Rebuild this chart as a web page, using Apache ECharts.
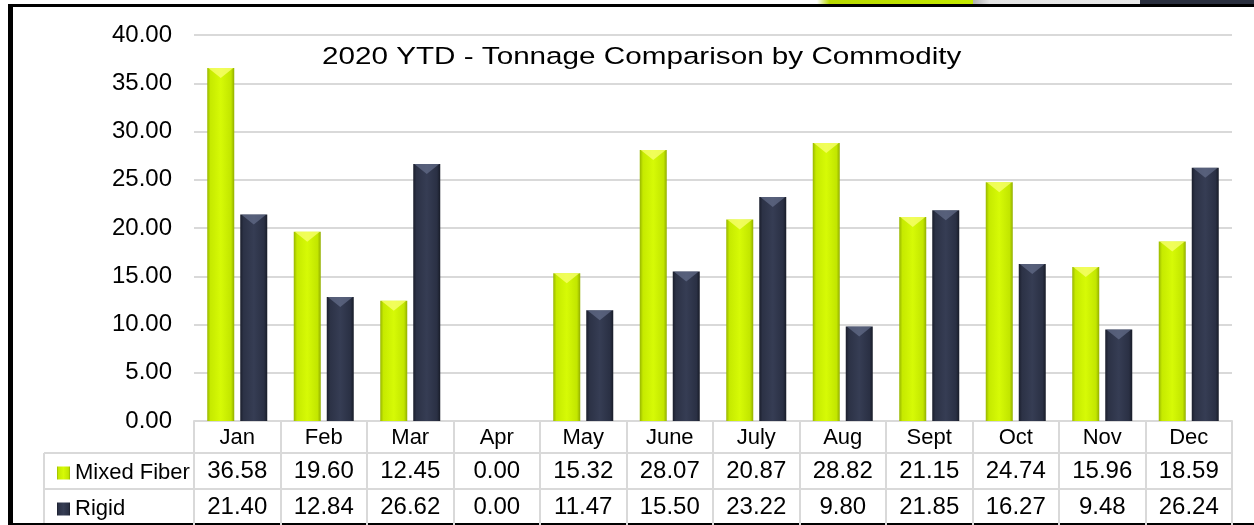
<!DOCTYPE html>
<html>
<head>
<meta charset="UTF-8">
<title>2020 YTD - Tonnage Comparison by Commodity</title>
<script type="text/javascript" src="https://cdn.jsdelivr.net/npm/echarts@6/dist/echarts.min.js"></script>
<style>
	html,body{margin:0;padding:0;background:#fff;}
</style>
</head>
<body>
	<div id="show" style="width:1254px;height:525px"></div>
	<script type="text/javascript">
		// data
		var months=['Jan','Feb','Mar','Apr','May','June','July','Aug','Sept','Oct','Nov','Dec'];
		var mixedFiber=[36.58,19.60,12.45,0.00,15.32,28.07,20.87,28.82,21.15,24.74,15.96,18.59];
		var rigid=[21.40,12.84,26.62,0.00,11.47,15.50,23.22,9.80,21.85,16.27,9.48,26.24];
		var yTicks=[0,5,10,15,20,25,30,35,40];

		var FONT='"Liberation Sans", Arial, sans-serif';
		var GRAY='#d9d9d9';
		var BAR_W=27;
		var GAP=6;
		var SHIFT=(BAR_W+GAP)/2;

		var greenFill=new echarts.graphic.LinearGradient(0,0,1,0,[
			{offset:0,color:'#98b600'},
			{offset:0.12,color:'#c6ea00'},
			{offset:0.5,color:'#d6fa06'},
			{offset:0.88,color:'#c2e600'},
			{offset:1,color:'#92ae00'}
		]);
		var darkFill=new echarts.graphic.LinearGradient(0,0,1,0,[
			{offset:0,color:'#1a1e2c'},
			{offset:0.12,color:'#2c3246'},
			{offset:0.5,color:'#363d54'},
			{offset:0.88,color:'#2a3044'},
			{offset:1,color:'#181c28'}
		]);

		function tableAxis(labels,offset,tickLen,size){
			return {
				type:'category',
				position:'bottom',
				offset:offset,
				data:labels,
				axisLine:{show:true,lineStyle:{color:GRAY,width:2}},
				axisTick:{show:true,length:tickLen,lineStyle:{color:GRAY,width:2}},
				axisLabel:{color:'#000',fontSize:size,fontFamily:FONT,margin:6,interval:0}
			};
		}
		// bevel on top of each bar: hide it where the value is 0
		function caps(arr){
			return arr.map(function(v){return v>0?v:'-';});
		}
		function capSeries(name,arr,dx,color){
			return {
				name:name,
				type:'pictorialBar',
				symbol:'triangle',
				symbolRotate:180,
				symbolSize:[BAR_W-2,10],
				symbolPosition:'end',
				symbolOffset:[dx,0],
				itemStyle:{color:color},
				z:3,
				silent:true,
				data:caps(arr)
			};
		}
		function legendRow(name,top){
			return {
				data:[{name:name,icon:'rect'}],
				orient:'vertical',
				left:52,
				top:top,
				itemWidth:13,
				itemHeight:13,
				selectedMode:false,
				textStyle:{color:'#000',fontSize:22,fontFamily:FONT}
			};
		}

		var myCharts=echarts.init(document.getElementById('show'));
		myCharts.setOption({
			animation:false,
			legend:[legendRow('Mixed Fiber',457),legendRow('Rigid',493)],
			grid:{left:194,right:22,top:35,bottom:104},
			xAxis:[
				tableAxis(months,0,32,22),
				tableAxis(mixedFiber.map(function(v){return v.toFixed(2);}),32,36,24),
				tableAxis(rigid.map(function(v){return v.toFixed(2);}),68,36,24)
			],
			yAxis:{
				type:'value',
				min:yTicks[0],
				max:yTicks[yTicks.length-1],
				interval:yTicks[1]-yTicks[0],
				axisLine:{show:false},
				axisTick:{show:false},
				axisLabel:{color:'#000',fontSize:24,fontFamily:FONT,margin:22,
					formatter:function(v){return v.toFixed(2);}},
				splitLine:{lineStyle:{color:GRAY,width:2}}
			},
			series:[{
				name:'Mixed Fiber',
				type:'bar',
				barWidth:BAR_W,
				barGap:(GAP/BAR_W*100)+'%',
				itemStyle:{color:greenFill},
				data:mixedFiber
			},{
				name:'Rigid',
				type:'bar',
				barWidth:BAR_W,
				itemStyle:{color:darkFill},
				data:rigid
			},
			capSeries('capMixed',mixedFiber,-SHIFT,'rgba(248,255,110,0.8)'),
			capSeries('capRigid',rigid,SHIFT,'rgba(110,120,150,0.6)')
			],
			graphic:[
				{type:'text',x:322,y:45,scaleX:1.21,
					style:{text:'2020 YTD - Tonnage Comparison by Commodity',fill:'#000',
						font:'24.5px "Liberation Sans", Arial, sans-serif',textVerticalAlign:'top'}},
				// table lines left of the plot
				{type:'line',shape:{x1:44,y1:453,x2:194,y2:453},style:{stroke:GRAY,lineWidth:2}},
				{type:'line',shape:{x1:44,y1:489,x2:194,y2:489},style:{stroke:GRAY,lineWidth:2}},
				{type:'line',shape:{x1:44,y1:453,x2:44,y2:525},style:{stroke:GRAY,lineWidth:2}},
				// outer black frame
				{type:'line',shape:{x1:10.5,y1:4,x2:10.5,y2:525},style:{stroke:'#000',lineWidth:5}},
				{type:'line',shape:{x1:8,y1:5.5,x2:1254,y2:5.5},style:{stroke:'#000',lineWidth:3}},
				{type:'line',shape:{x1:8,y1:524,x2:1254,y2:524},style:{stroke:'#000',lineWidth:2}},
				// strip above the frame
				{type:'rect',shape:{x:817,y:0,width:156,height:4},style:{fill:new echarts.graphic.LinearGradient(0,0,1,0,[
					{offset:0,color:'#ffffff'},{offset:0.08,color:'#b8d800'},{offset:1,color:'#c4ea00'}])}},
				{type:'rect',shape:{x:973,y:0,width:167,height:4},style:{fill:new echarts.graphic.LinearGradient(0,0,1,0,[
					{offset:0,color:'#b0b0b0'},{offset:0.1,color:'#e4e4e4'},{offset:1,color:'#e8e8e8'}])}},
				{type:'rect',shape:{x:1140,y:0,width:114,height:4},style:{fill:'#2a2f3e'}}
			]
		});
	</script>
</body>
</html>
